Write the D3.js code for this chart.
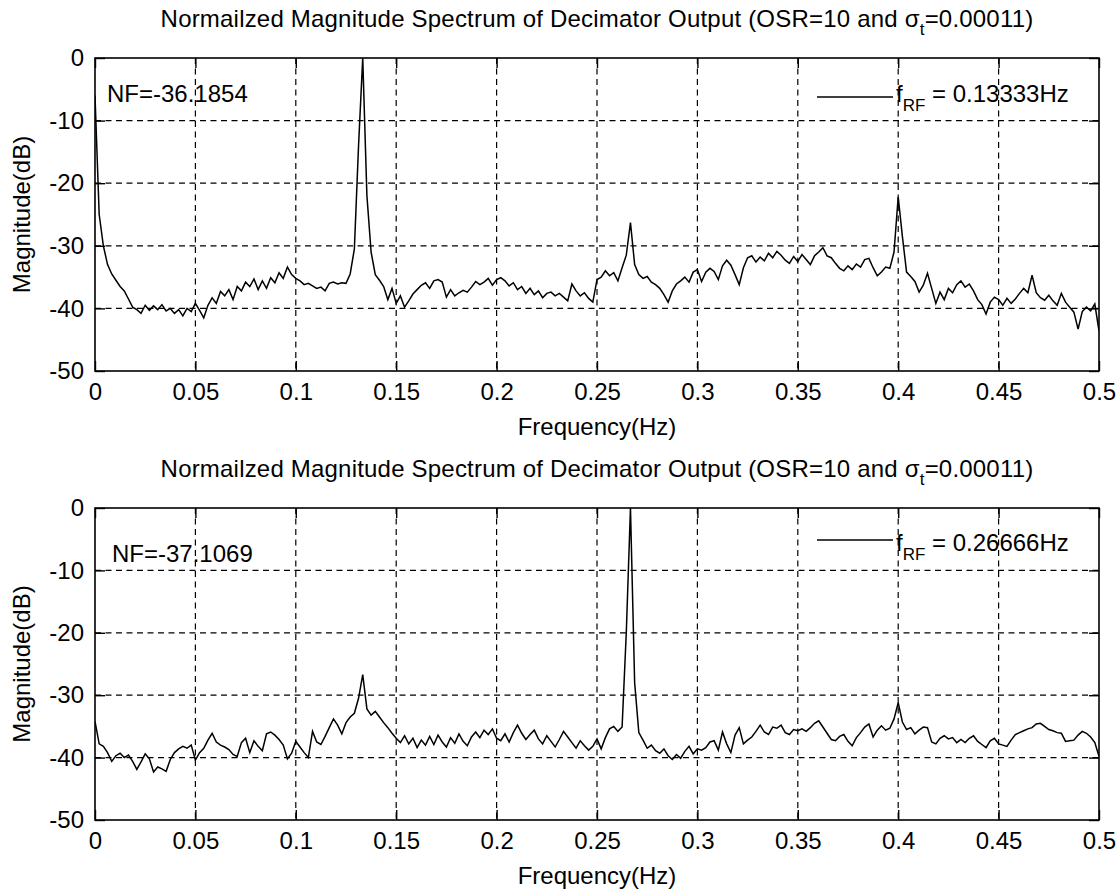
<!DOCTYPE html>
<html>
<head>
<meta charset="utf-8">
<script src="https://cdn.jsdelivr.net/npm/d3@7"></script>
<style>
  body { margin: 0; background: #fff; }
  text { font-family: "Liberation Sans", Arial, sans-serif; fill: #000; }
</style>
</head>
<body>
<svg id="chart" width="1118" height="890"></svg>
<script>
// Spectrum bins: f = k / 480 Hz, k = 0..240 (0 .. 0.5 Hz)
const binsPerHz = 480;

// Normalized magnitude (dB), RF tone at 0.13333 Hz
const magTop = [
  -6, -25, -30, -33, -34.5, -35.5, -36.5, -37.2, -38.5, -39.8,
  -40.2, -40.8, -39.5, -40.3, -39.6, -40.2, -39.4, -40.4, -40, -40.8,
  -40.2, -41.2, -40, -40.5, -39.2, -40.3, -41.5, -39.5, -38.3, -39.2,
  -37.3, -38, -37, -38.6, -36.5, -37.2, -35.8, -36.5, -35.3, -37,
  -35.6, -36.8, -35.1, -35.9, -34.3, -35.2, -33.4, -34.6, -35.2, -35.6,
  -36.2, -36, -36.4, -36.8, -36.6, -37.2, -36, -35.8, -36.1, -35.9,
  -36, -34.5, -30.5, -14, 0, -22, -31, -34.6, -35.5, -36.5,
  -38.6, -36.8, -39.2, -38, -39.8, -38.8, -37.7, -37, -36.3, -35.9,
  -36.8, -35.6, -35.4, -35.8, -38.2, -37, -38, -37.5, -37.1, -37.4,
  -36.6, -35.7, -36.2, -35.8, -35.2, -36.3, -35.4, -35.1, -35.6, -36.4,
  -35.9, -37, -36.5, -37.6, -36.8, -37.8, -37.2, -38.3, -37.6, -37.4,
  -38, -37.6, -38.2, -38.8, -36.1, -37.2, -38, -37.5, -38.4, -39,
  -35.4, -35, -34, -34.8, -34.3, -35.6, -33.5, -31.5, -26.3, -33,
  -34.6, -35.2, -34.9, -35.8, -36.2, -36.8, -37.8, -39, -37.2, -36.1,
  -35.6, -35, -35.8, -34.2, -33.8, -35.7, -34.2, -33.6, -34.1, -35.4,
  -33.2, -32.3, -33.1, -34.6, -36.2, -33.5, -31.9, -31.6, -32.6, -31.8,
  -32.4, -31.2, -31.9, -30.9, -31.5, -32.3, -32.8, -31.7, -32.5, -31.4,
  -32.2, -33, -31.6, -31, -30.3, -31.6, -31.9, -32.8, -33.6, -34,
  -33.2, -33.8, -32.9, -33.4, -32.2, -32, -33.5, -34.8, -34.2, -33.4,
  -33.6, -31, -22.2, -28.5, -34.2, -34.9, -35.7, -37.4, -36.3, -34.4,
  -36.8, -39.2, -37.4, -38.6, -36.8, -37.5, -36.2, -35.6, -36.6, -36.1,
  -37.2, -38.6, -39.4, -40.9, -39, -38.2, -38.6, -39.5, -38.4, -39.2,
  -38.5, -37.6, -36.8, -37.5, -34.7, -37.5, -38.3, -38.7, -37.9, -38.8,
  -39.5, -37.6, -39, -39.8, -40.6, -43.3, -40.5, -39.8, -40.4, -39.3,
  -43.6
];

// Normalized magnitude (dB), RF tone at 0.26666 Hz
const magBottom = [
  -34.2, -37.8, -38.2, -39.2, -40.6, -39.7, -39.3, -40, -39.6, -40.6,
  -41.9, -40.7, -39.4, -40.2, -42.3, -41.5, -41.8, -42.2, -40.3, -39.2,
  -38.6, -38.2, -38.5, -38, -40.4, -39.2, -38.5, -37.2, -36.1, -37.5,
  -38, -38.3, -38.7, -39.5, -39.8, -37.6, -36.9, -39.2, -37.3, -38.2,
  -38.9, -36.2, -35.9, -36.4, -37.1, -38, -40.2, -39.3, -37.4, -38.3,
  -39.2, -40, -35.8, -37.5, -37.9, -36.6, -35.2, -33.8, -34.8, -36.2,
  -34.4, -33.5, -32.9, -30.5, -26.7, -32.2, -33.2, -32.6, -33.5, -34.4,
  -35.2, -36.1, -36.9, -37.6, -36.5, -37.8, -36.9, -38.4, -37.2, -38,
  -36.6, -37.9, -36.4, -37.5, -38.3, -36.8, -37.7, -36.2, -37.4, -38.1,
  -36.7, -35.9, -36.8, -35.6, -36.3, -35.4, -36.9, -37.3, -36.2, -37.5,
  -36, -34.8, -36.1, -37.1, -36.3, -35.6, -37, -37.8, -36.5, -37.4,
  -38.3, -37.1, -35.8, -36.7, -37.6, -38.5, -37.3, -38.1, -38.8, -38.2,
  -37, -38.6, -36.8, -35.4, -35, -35.8, -35.1, -20, 0, -28,
  -36, -37.2, -38.5, -38, -38.9, -39.3, -38.6, -39.7, -40.3, -39.5,
  -40.1, -39, -38.2, -39.4, -38.6, -38.8, -38.4, -37.5, -37.3, -38.8,
  -35.9, -37.8, -39.2, -36.4, -35.2, -37.8, -37.2, -36.7, -35.8, -34.8,
  -35.9, -36.3, -35.1, -35.3, -34.8, -36, -36.3, -35.5, -35.7, -35.4,
  -35.8, -35.2, -34.5, -34.1, -35.1, -36.1, -37.1, -37.3, -36.6, -36.3,
  -37.4, -38.1, -36.8, -36, -35.1, -34.6, -36.7, -35.6, -34.9, -35.6,
  -35.3, -33.8, -31.2, -34.3, -35.5, -35.2, -36.2, -35.6, -35.1, -35.2,
  -37.5, -37.8, -36.9, -36.5, -37, -36.8, -37.6, -37.1, -37.6, -36.9,
  -36.5, -37.4, -37.9, -38.4, -37.3, -36.9, -37.8, -38, -38.2, -37.2,
  -36.3, -36, -35.7, -35.4, -35.2, -34.6, -34.5, -35, -35.5, -35.7,
  -36, -36.1, -37.4, -37.3, -37.2, -36.4, -35.8, -36.1, -36.7, -37.6,
  -39.8
];

const xTicks = [0, 0.05, 0.1, 0.15, 0.2, 0.25, 0.3, 0.35, 0.4, 0.45, 0.5];
const yTicks = [0, -10, -20, -30, -40, -50];
const noiseFloors = ["NF=-36.1854", "NF=-37.1069"];
const toneLabels = ["0.13333Hz", "0.26666Hz"];

const svg = d3.select("#chart");

const panels = [
  { mags: magTop,    top: 58,  bottom: 371, nf: noiseFloors[0], tone: toneLabels[0], nfX: 107, nfBase: 102, legY: 97,  legBase: 102 },
  { mags: magBottom, top: 508, bottom: 820, nf: noiseFloors[1], tone: toneLabels[1], nfX: 112, nfBase: 562, legY: 540, legBase: 551 }
];

const left = 95, right = 1099;
const fs = 24;
const font = '"Liberation Sans", Arial, sans-serif';

panels.forEach((p, idx) => {
  const x = d3.scaleLinear().domain([0, 0.5]).range([left, right]);
  const y = d3.scaleLinear().domain([-50, 0]).range([p.bottom, p.top]);
  const g = svg.append("g");

  // dashed grid at interior ticks
  const grid = g.append("g")
    .attr("stroke", "#000").attr("stroke-width", 1.2)
    .attr("stroke-dasharray", "6,4.5");
  grid.selectAll("line.v").data(xTicks.slice(1, -1)).join("line")
    .attr("x1", d => x(d)).attr("x2", d => x(d))
    .attr("y1", p.top).attr("y2", p.bottom);
  grid.selectAll("line.h").data(yTicks.slice(1, -1)).join("line")
    .attr("x1", left).attr("x2", right)
    .attr("y1", d => y(d)).attr("y2", d => y(d));

  // axes on all four sides, ticks pointing inward
  const tickLen = 10;
  const axB = d3.axisBottom(x).tickValues(xTicks).tickSize(-tickLen).tickPadding(12).tickFormat(d => String(d));
  const axT = d3.axisTop(x).tickValues(xTicks).tickSize(-tickLen).tickFormat("");
  const axL = d3.axisLeft(y).tickValues(yTicks).tickSize(-tickLen).tickPadding(11).tickFormat(d => String(d));
  const axR = d3.axisRight(y).tickValues(yTicks).tickSize(-tickLen).tickFormat("");

  [[axB, `translate(0,${p.bottom})`], [axT, `translate(0,${p.top})`],
   [axL, `translate(${left},0)`], [axR, `translate(${right},0)`]].forEach(([ax, tr]) => {
    const a = g.append("g").attr("transform", tr).call(ax);
    a.select(".domain").remove();
    a.selectAll("line").attr("stroke", "#000").attr("stroke-width", 1.4);
    a.selectAll("text").style("font-size", fs + "px").attr("fill", "#000").style("font-family", font);
  });

  // frame
  g.append("rect").attr("x", left).attr("y", p.top)
    .attr("width", right - left).attr("height", p.bottom - p.top)
    .attr("fill", "none").attr("stroke", "#000").attr("stroke-width", 1.6);

  // spectrum trace
  const clipId = "clip" + idx;
  svg.append("clipPath").attr("id", clipId).append("rect")
    .attr("x", left).attr("y", p.top - 1).attr("width", right - left).attr("height", p.bottom - p.top + 2);
  const line = d3.line().x((d, i) => x(i / binsPerHz)).y(d => y(d));
  g.append("path").datum(p.mags)
    .attr("clip-path", `url(#${clipId})`)
    .attr("fill", "none").attr("stroke", "#000").attr("stroke-width", 1.5)
    .attr("stroke-linejoin", "miter").attr("d", line);

  // title
  const t = g.append("text").attr("x", (left + right) / 2).attr("y", p.top - 31)
    .attr("text-anchor", "middle").style("font-size", fs + "px").style("letter-spacing", "0.2px");
  t.append("tspan").text("Normailzed Magnitude Spectrum of Decimator Output (OSR=10 and ");
  t.append("tspan").text("σ");
  t.append("tspan").attr("dy", 8).style("font-size", "17px").text("t");
  t.append("tspan").attr("dy", -8).text("=0.00011)");

  // axis labels
  g.append("text").attr("x", (left + right) / 2).attr("y", p.bottom + 64)
    .attr("text-anchor", "middle").style("font-size", fs + "px").text("Frequency(Hz)");
  g.append("text").attr("transform", `translate(30,${(p.top + p.bottom) / 2}) rotate(-90)`)
    .attr("text-anchor", "middle").style("font-size", fs + "px").text("Magnitude(dB)");

  // noise-floor annotation
  g.append("text").attr("x", p.nfX).attr("y", p.nfBase).style("font-size", fs + "px").text(p.nf);

  // legend (no box)
  g.append("line").attr("x1", 817).attr("x2", 893).attr("y1", p.legY).attr("y2", p.legY)
    .attr("stroke", "#000").attr("stroke-width", 1.5);
  const lt = g.append("text").attr("x", 896).attr("y", p.legBase).style("font-size", fs + "px");
  lt.append("tspan").text("f");
  lt.append("tspan").attr("dy", 9).style("font-size", "17px").text("RF");
  lt.append("tspan").attr("dy", -9).text(" = " + p.tone);
});
</script>
</body>
</html>
